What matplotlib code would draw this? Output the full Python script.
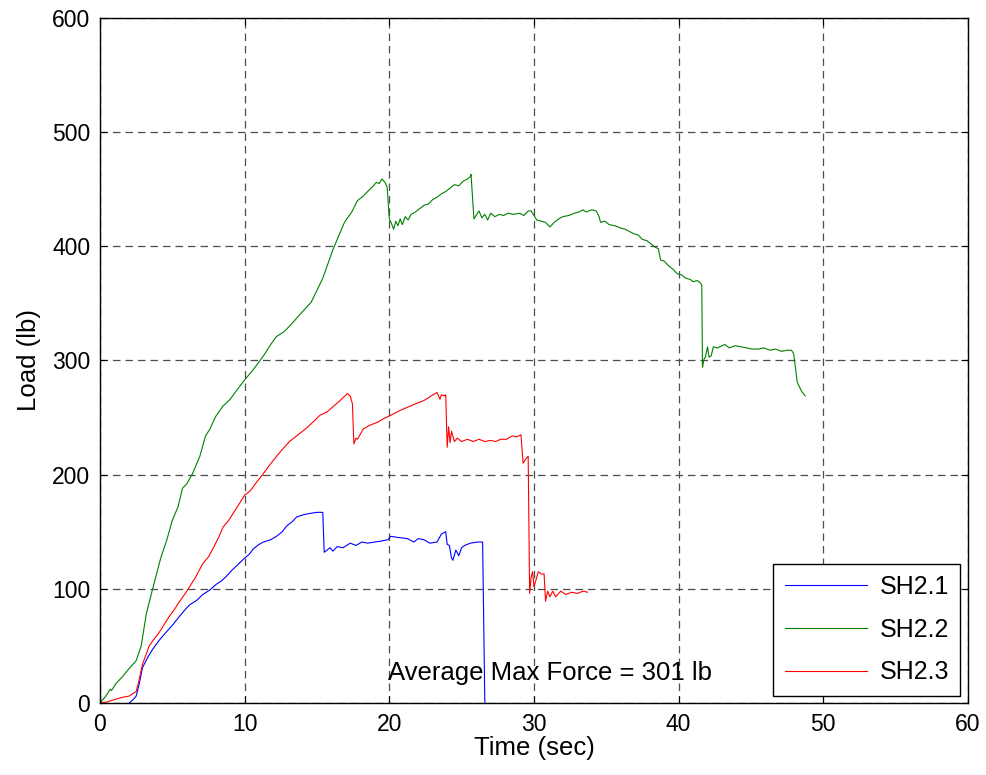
import matplotlib
matplotlib.use("Agg")
import matplotlib.pyplot as plt
import numpy as np

plt.rcParams['font.family'] = ['Liberation Sans', 'DejaVu Sans']

# (time sec, load lb)
sh21 = [(1.85, -2), (2.1, 1), (2.3, 3), (2.5, 6), (2.7, 16), (2.94, 31), (3.3, 40), (3.64, 47),
        (4.1, 55), (4.57, 62), (5.0, 68), (5.5, 76), (5.9, 82), (6.2, 86), (6.7, 90), (7.1, 95),
        (7.6, 99), (8.04, 104), (8.4, 107), (8.74, 111), (9.1, 116), (9.43, 120), (10.0, 127),
        (10.3, 130), (10.6, 135), (11.0, 139), (11.3, 141), (11.8, 143), (12.2, 146), (12.6, 150),
        (12.9, 155), (13.3, 159), (13.6, 163), (14.1, 165), (14.5, 166), (15.0, 167), (15.4, 167),
        (15.5, 132), (15.7, 134), (15.9, 136), (16.1, 133), (16.4, 137), (16.8, 136), (17.3, 140),
        (17.7, 138), (18.1, 141), (18.5, 140), (19.0, 141), (19.5, 142), (19.9, 143), (20.1, 146),
        (20.6, 145), (21.25, 144), (21.7, 141), (22.0, 144), (22.4, 143), (22.8, 140), (23.3, 141),
        (23.6, 148), (23.9, 150), (24.0, 139), (24.15, 138), (24.3, 127), (24.4, 125), (24.6, 134),
        (24.8, 129), (25.0, 136), (25.2, 138), (25.6, 140), (26.1, 141), (26.45, 141), (26.6, 3),
        (26.65, -5)]

sh22 = [(0, 0), (0.4, 6), (0.7, 12), (0.8, 11), (1.1, 17), (1.55, 23), (2.0, 30), (2.5, 37),
        (2.85, 50), (3.2, 78), (3.64, 100), (4.2, 127), (4.6, 142), (5.0, 160), (5.4, 172),
        (5.7, 188), (6.0, 192), (6.4, 201), (6.9, 216), (7.3, 234), (7.6, 240), (8.0, 251),
        (8.5, 260), (9.0, 266), (9.4, 273), (10.0, 283), (10.6, 292), (11.3, 304), (11.8, 314),
        (12.2, 321), (12.7, 325), (13.1, 330), (13.8, 340), (14.6, 351), (15.4, 372), (16.1, 397),
        (16.9, 421), (17.4, 430), (17.8, 440), (18.2, 444), (18.5, 448), (18.9, 453), (19.1, 456),
        (19.3, 455), (19.5, 459), (19.7, 456), (19.85, 452), (20.0, 424), (20.15, 420), (20.3, 415),
        (20.45, 422), (20.6, 418), (20.75, 424), (20.9, 419), (21.1, 426), (21.3, 423), (21.5, 428),
        (21.8, 430), (22.1, 433), (22.4, 436), (22.7, 437), (23.0, 441), (23.3, 443), (23.6, 446),
        (23.9, 448), (24.2, 451), (24.5, 454), (24.8, 453), (25.1, 457), (25.4, 459), (25.6, 461),
        (25.65, 463), (25.85, 424), (26.0, 427), (26.2, 431), (26.4, 425), (26.6, 428), (26.8, 423),
        (27.0, 429), (27.3, 426), (27.6, 428), (27.9, 427), (28.2, 429), (28.6, 428), (29.0, 429),
        (29.3, 427), (29.6, 431), (29.8, 431), (30.0, 427), (30.2, 423), (30.5, 422), (30.8, 421),
        (31.1, 417), (31.4, 421), (31.7, 424), (32.0, 426), (32.4, 427), (32.8, 429), (33.1, 430),
        (33.4, 432), (33.6, 430), (34.0, 432), (34.3, 431), (34.5, 426), (34.6, 421), (34.9, 422),
        (35.2, 419), (35.6, 418), (36.0, 416), (36.3, 415), (36.6, 413), (36.9, 411), (37.2, 410),
        (37.5, 406), (37.8, 405), (38.1, 402), (38.4, 399), (38.6, 398), (38.75, 388), (39.0, 387),
        (39.3, 383), (39.6, 380), (39.9, 376), (40.2, 375), (40.5, 372), (40.8, 371), (41.0, 369),
        (41.3, 370), (41.5, 368), (41.6, 366), (41.65, 294), (41.75, 301), (41.85, 303), (42.0, 312),
        (42.1, 303), (42.25, 304), (42.4, 312), (42.7, 311), (43.0, 313), (43.2, 314), (43.5, 311),
        (43.9, 313), (44.3, 312), (44.7, 311), (45.1, 310), (45.5, 310), (45.9, 311), (46.3, 309),
        (46.7, 310), (47.1, 308), (47.5, 309), (47.8, 309), (47.95, 306), (48.2, 281), (48.5, 273),
        (48.75, 269)]

sh23 = [(0, 0), (0.5, 1), (1.0, 3), (1.55, 5), (2.0, 6), (2.25, 8), (2.5, 10), (2.7, 20),
        (2.94, 34), (3.2, 43), (3.4, 50), (3.8, 57), (4.1, 62), (4.5, 70), (4.8, 76), (5.2, 83),
        (5.5, 89), (5.9, 96), (6.2, 102), (6.6, 110), (7.1, 122), (7.5, 128), (7.8, 135), (8.2, 145),
        (8.5, 154), (8.9, 160), (9.2, 166), (9.6, 174), (10.0, 182), (10.4, 186), (10.8, 193),
        (11.3, 201), (11.7, 208), (12.2, 216), (12.6, 222), (13.1, 229), (13.6, 234), (14.3, 241),
        (14.8, 247), (15.2, 252), (15.7, 255), (16.15, 260), (16.6, 265), (17.1, 271), (17.3, 269),
        (17.45, 262), (17.55, 227), (17.7, 232), (17.8, 231), (18.2, 240), (18.6, 243), (19.2, 246),
        (19.6, 249), (20.1, 252), (20.7, 256), (21.25, 259), (21.8, 262), (22.4, 265), (22.9, 269),
        (23.3, 272), (23.5, 266), (23.6, 270), (23.8, 269), (23.9, 270), (24.0, 224), (24.1, 242),
        (24.2, 228), (24.3, 238), (24.5, 229), (24.7, 232), (25.0, 229), (25.4, 231), (25.8, 229),
        (26.2, 231), (26.6, 229), (27.0, 230), (27.35, 229), (27.7, 231), (28.1, 231), (28.5, 234),
        (28.8, 233), (29.1, 235), (29.25, 210), (29.45, 214), (29.6, 216), (29.7, 96), (29.8, 110),
        (29.9, 115), (30.0, 102), (30.1, 106), (30.3, 115), (30.5, 113), (30.7, 113), (30.8, 89),
        (30.95, 98), (31.1, 93), (31.3, 98), (31.5, 93), (31.85, 98), (32.2, 95), (32.6, 97),
        (33.0, 96), (33.4, 98), (33.7, 97)]

labels = ['SH2.1', 'SH2.2', 'SH2.3']
colors = ['#0000ff', '#008000', '#ff0000']
avg_note = 'Average Max Force = 301 lb'

fig = plt.figure(figsize=(9.87, 7.75), dpi=100)
ax = fig.add_axes([0.1013, 0.0929, 0.8794, 0.8839])

for pts, lab, c in zip([sh21, sh22, sh23], labels, colors):
    t, f = np.array(pts).T
    ax.plot(t, f, color=c, lw=0.8, label=lab)

ax.set_xlim(0, 60)
ax.set_ylim(0, 600)
ax.set_xticks(np.arange(0, 61, 10))
ax.set_yticks(np.arange(0, 601, 100))
ax.grid(True, color='0.3', ls=(0, (6, 4)), lw=0.9)
ax.tick_params(direction='in', top=True, right=True, labelsize=16.5, length=5, pad=7)
for s in ax.spines.values():
    s.set_linewidth(1.0)

ax.set_xlabel('Time (sec)', fontsize=18.5, labelpad=0)
ax.set_ylabel('Load (lb)', fontsize=18.5, labelpad=8)

ax.text(19.9, 26, avg_note, fontsize=18.5, va='center', ha='left')

leg = ax.legend(loc='lower right', fontsize=18, fancybox=False, framealpha=1,
                edgecolor='black', handlelength=3.3, handletextpad=0.5,
                borderaxespad=0.3, labelspacing=0.75, borderpad=0.45)
leg.get_frame().set_linewidth(1.0)

fig.savefig('out.png', dpi=100)
